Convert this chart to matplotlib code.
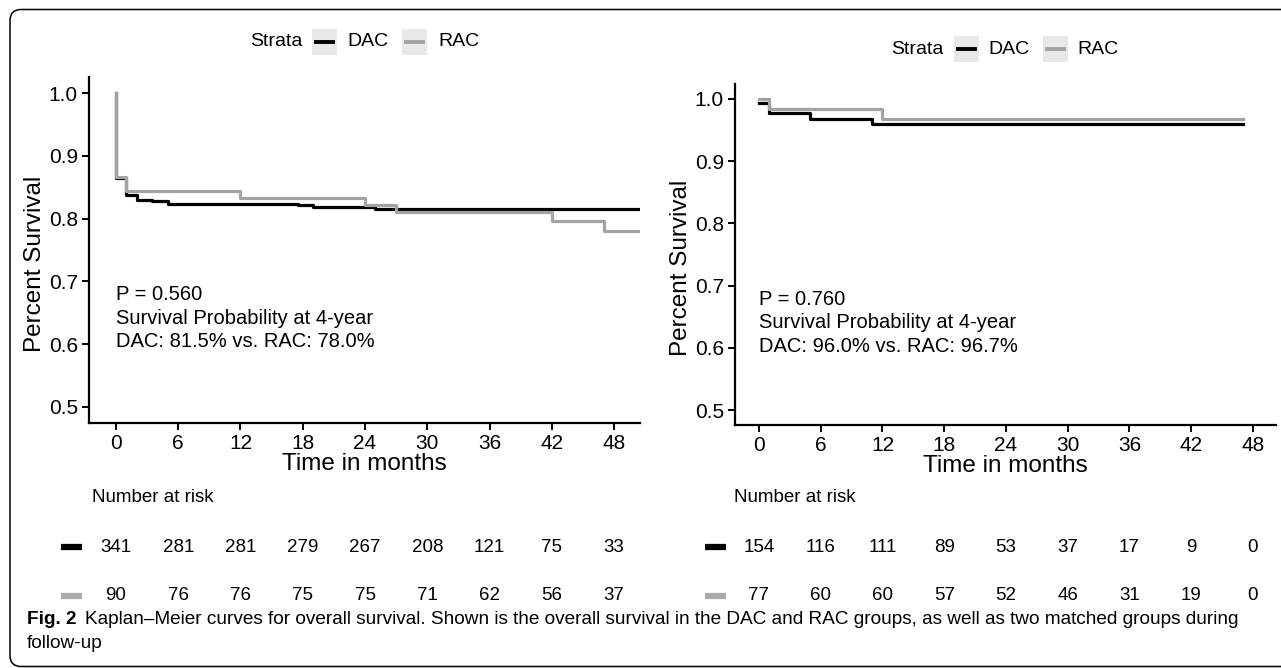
import numpy as np
import matplotlib
matplotlib.use("Agg")
import matplotlib.pyplot as plt
from matplotlib import transforms
from matplotlib.patches import FancyBboxPatch, Rectangle
from matplotlib.lines import Line2D
from matplotlib import font_manager

plt.rcParams['font.family'] = ['Liberation Sans', 'DejaVu Sans']

## DATA

# left panel: all patients
left_dac_t = [0, 0, 1, 2, 3.5, 5, 17.5, 19, 25, 50.5]
left_dac_s = [1.0, 0.865, 0.838, 0.830, 0.828, 0.824, 0.821, 0.818, 0.815, 0.815]
left_rac_t = [0, 0, 1, 12, 24, 27, 42, 47, 50.5]
left_rac_s = [1.0, 0.867, 0.844, 0.833, 0.822, 0.811, 0.796, 0.780, 0.780]

# right panel: matched groups
right_dac_t = [0, 1, 5, 11, 47]
right_dac_s = [0.994, 0.977, 0.968, 0.960, 0.960]
right_rac_t = [0, 1, 12, 47]
right_rac_s = [1.0, 0.984, 0.967, 0.967]

risk_times = [0, 6, 12, 18, 24, 30, 36, 42, 48]
left_dac_risk = [341, 281, 281, 279, 267, 208, 121, 75, 33]
left_rac_risk = [90, 76, 76, 75, 75, 71, 62, 56, 37]
right_dac_risk = [154, 116, 111, 89, 53, 37, 17, 9, 0]
right_rac_risk = [77, 60, 60, 57, 52, 46, 31, 19, 0]

left_note = "P = 0.560\nSurvival Probability at 4-year\nDAC: 81.5% vs. RAC: 78.0%"
right_note = "P = 0.760\nSurvival Probability at 4-year\nDAC: 96.0% vs. RAC: 96.7%"

strata = ["DAC", "RAC"]
colors = ["#000000", "#a3a3a3"]

caption_bold = "Fig. 2"
caption_line1 = ("Kaplan\u2013Meier curves for overall survival. Shown is the overall survival "
                 "in the DAC and RAC groups, as well as two matched groups during")
caption_line2 = "follow-up"

## LAYOUT (pixels)

W, H = 1281, 668
fig = plt.figure(figsize=(W / 100, H / 100), dpi=100)


def fx(px):
    return px / W


def fy(py):
    return 1 - py / H


def make_axes(x0, x1, y0, y1, ylab_x):
    ax = fig.add_axes([fx(x0), fy(y1), (x1 - x0) / W, (y1 - y0) / H])
    for side in ["top", "right"]:
        ax.spines[side].set_visible(False)
    for side in ["left", "bottom"]:
        ax.spines[side].set_linewidth(1.6)
    ax.tick_params(direction="out", length=5, width=1.4, labelsize=15, colors="black", pad=3)
    ax.set_xticks(risk_times)
    ax.set_yticks([0.5, 0.6, 0.7, 0.8, 0.9, 1.0])
    ax.set_yticklabels(["0.5", "0.6", "0.7", "0.8", "0.9", "1.0"])
    ax.set_xlabel("Time in months", fontsize=17.5, labelpad=0)
    ax.set_ylabel("Percent Survival", fontsize=17.5)
    # label centre a bit below the panel centre, as in the original
    ax.yaxis.set_label_coords((ylab_x - x0) / (x1 - x0), 0.46)
    return ax


axL = make_axes(89, 640, 77, 423, 46)
axL.set_xlim(-2.6, 50.5)
axL.set_ylim(0.4745, 1.0255)

axR = make_axes(735, 1276, 84, 425, 692)
axR.set_xlim(-2.33, 50.24)
axR.set_ylim(0.4759, 1.024)

lw = 2.3
axL.step(left_dac_t, left_dac_s, where="post", color=colors[0], lw=lw)
axL.step(left_rac_t, left_rac_s, where="post", color=colors[1], lw=lw)
axR.step(right_dac_t, right_dac_s, where="post", color=colors[0], lw=lw)
axR.step(right_rac_t, right_rac_s, where="post", color=colors[1], lw=lw)

axL.text(0, 0.678, left_note, fontsize=14.5, va="top", ha="left", linespacing=1.3,
         transform=transforms.offset_copy(axL.transData, fig=fig, y=10, units="dots"))
axR.text(0, 0.677, right_note, fontsize=14.5, va="top", ha="left", linespacing=1.3,
         transform=transforms.offset_copy(axR.transData, fig=fig, y=10, units="dots"))


# legends on top: "Strata" + keys
def strata_legend(y, x_title, key_x, text_x):
    fig.text(fx(x_title), fy(y), "Strata", fontsize=14, va="center", ha="left")
    for kx, tx, name, c in zip(key_x, text_x, strata, colors):
        fig.patches.append(Rectangle((fx(kx), fy(y + 13)), 25 / W, 26 / H,
                                     transform=fig.transFigure, color="#e8e8e8", lw=0))
        fig.lines.append(Line2D([fx(kx + 4), fx(kx + 21)], [fy(y), fy(y)],
                                transform=fig.transFigure, color=c, lw=2.8))
        fig.text(fx(tx), fy(y), name, fontsize=14, va="center", ha="left")


strata_legend(42, 250, [312, 402], [347, 438])
strata_legend(49, 891, [954, 1043], [988, 1077])


# number at risk tables
def risk_table(ax, label_x, dac, rac, mark_x):
    tr = transforms.blended_transform_factory(ax.transData, fig.transFigure)
    fig.text(fx(label_x), fy(497), "Number at risk", fontsize=13.5, va="center", ha="left")
    for row_y, vals, c in [(547, dac, colors[0]), (596, rac, "#ababab")]:
        ax.plot([mark_x - 1.0, mark_x + 1.0], [fy(row_y), fy(row_y)], transform=tr,
                color=c, lw=4.5, solid_capstyle="butt", clip_on=False)
        for t, v in zip(risk_times, vals):
            ax.text(t, fy(row_y), str(v), transform=tr, fontsize=13.5, ha="center", va="center")


risk_table(axL, 92, left_dac_risk, left_rac_risk, -4.3)
risk_table(axR, 734, right_dac_risk, right_rac_risk, -4.2)

# outer rounded frame
frame = FancyBboxPatch((10, 1.5), 1400, 657, boxstyle="round,pad=0,rounding_size=11",
                       transform=None, fill=False, ec="black", lw=1.1)
fig.patches.append(frame)

# caption
names = {f.name for f in font_manager.fontManager.ttflist}
cap_family = ["Liberation Sans Narrow"] if "Liberation Sans Narrow" in names else ["Liberation Sans"]
renderer = fig.canvas.get_renderer()
cap_size = 13
cap_x0, cap_x1 = 27, 1239
b = fig.text(fx(cap_x0), fy(620), caption_bold, fontsize=cap_size, weight="bold",
             family=cap_family, va="center", ha="left")
t1 = fig.text(0, fy(620), caption_line1, fontsize=cap_size, family=cap_family,
              va="center", ha="left")
# fit the caption line to the frame width
bw = b.get_window_extent(renderer).width
tw = t1.get_window_extent(renderer).width
scale = (cap_x1 - cap_x0) / (bw + tw + 8)
cap_size *= scale
b.set_fontsize(cap_size)
t1.set_fontsize(cap_size)
bw = b.get_window_extent(renderer).width
t1.set_x(fx(cap_x0 + bw + 8 * scale))
fig.text(fx(cap_x0), fy(643), caption_line2, fontsize=cap_size, family=cap_family,
         va="center", ha="left")

fig.savefig("out.png", dpi=100)
